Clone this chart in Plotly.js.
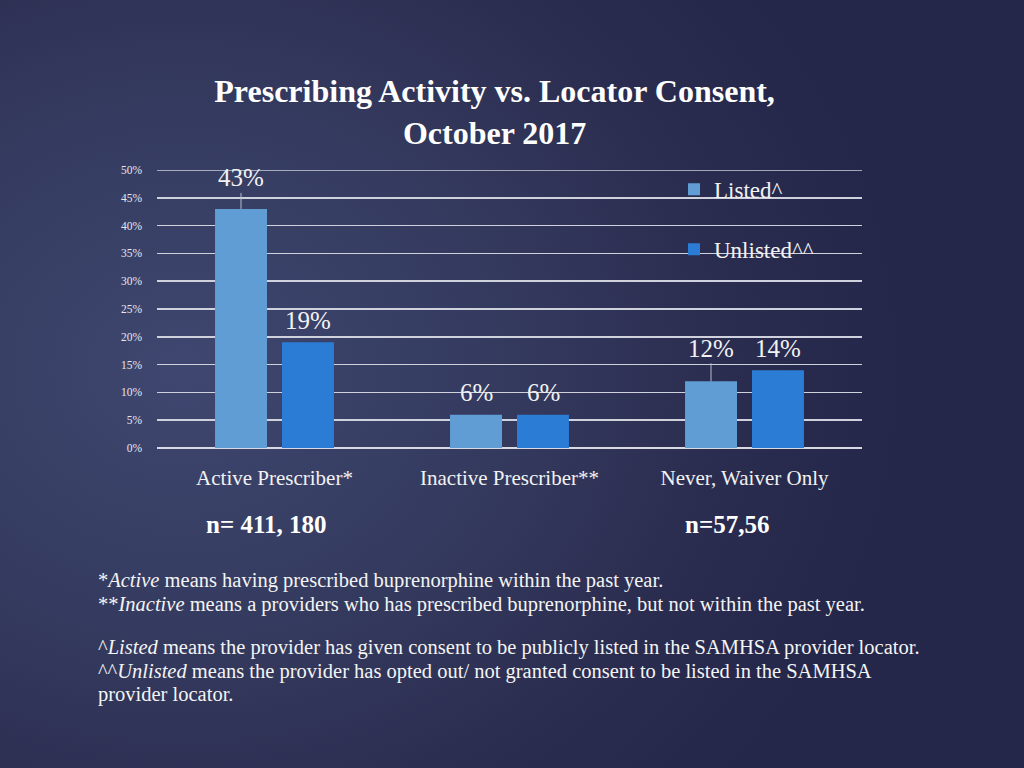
<!DOCTYPE html>
<html>
<head>
<meta charset="utf-8">
<script src="https://cdn.plot.ly/plotly-3.0.1.min.js"></script>
<style>
  html, body { margin:0; padding:0; width:1024px; height:768px; overflow:hidden; }
  body { background: radial-gradient(ellipse 70% 80% at 18% 48%, #3f4770 0%, #343a5e 45%, #2b2d50 75%, #25274a 100%); }
  #chart { width:1024px; height:768px; }
</style>
</head>
<body>
<div id="chart"></div>
<script>
// ---- data ----
const categories = ["Active Prescriber*", "Inactive Prescriber**", "Never, Waiver Only"];
const seriesNames = ["Listed^", "Unlisted^^"];
const listedValues = [0.43, 0.06, 0.12];
const unlistedValues = [0.19, 0.06, 0.14];
const yTickValues = [0, 0.05, 0.10, 0.15, 0.20, 0.25, 0.30, 0.35, 0.40, 0.45, 0.50];
const yTickLabels = ["0%", "5%", "10%", "15%", "20%", "25%", "30%", "35%", "40%", "45%", "50%"];
const nLabels = ["n= 411, 180", "", "n=57,56"];
const titleText = "<b>Prescribing Activity vs. Locator Consent,</b><br><b>October 2017</b>";
const footnoteLines = [
  "*<i>Active</i> means having prescribed buprenorphine within the past year.",
  "**<i>Inactive</i> means a providers who has prescribed buprenorphine, but not within the past year.",
  "^<i>Listed</i> means the provider has given consent to be publicly listed in the SAMHSA provider locator.",
  "^^<i>Unlisted</i> means the provider has opted out/ not granted consent to be listed in the SAMHSA",
  "provider locator."
];

// ---- style ----
const FONT = "'Liberation Serif', 'DejaVu Serif', serif";
const colors = ["#5f9dd4", "#2b7cd4"];
const labelOffsets = [[-31, -22, -33], [-22, -22, -22]]; // px above bar top
const leaderLines = [[true, false, true], [false, false, false]];
const seriesShift = [-33.5, 33.5];
const nShift = [-8, 0, -18];
const plotTop = 170, plotBottom = 448;
const pxToPaperY = py => 1 - (py - plotTop) / (plotBottom - plotTop);
const footnoteY = [580, 604, 647, 671, 694];

const traces = [listedValues, unlistedValues].map((vals, i) => ({
  type: 'bar',
  name: seriesNames[i],
  x: categories,
  y: vals,
  marker: { color: colors[i] },
  legendgroup: 'g' + i,
  hoverinfo: 'skip'
}));

const annotations = [];
[listedValues, unlistedValues].forEach((vals, s) => {
  vals.forEach((v, c) => {
    const txt = Math.round(v * 100) + '%';
    const base = {
      x: categories[c], y: v, xref: 'x', yref: 'y', text: txt,
      xshift: seriesShift[s],
      font: { family: FONT, size: 25, color: '#f2f2f2' }
    };
    if (leaderLines[s][c]) {
      annotations.push(Object.assign(base, {
        showarrow: true, arrowhead: 0, arrowwidth: 1, arrowcolor: '#b8bccc',
        ax: 0, ay: labelOffsets[s][c], standoff: 0
      }));
    } else {
      annotations.push(Object.assign(base, {
        yshift: -labelOffsets[s][c], showarrow: false
      }));
    }
  });
});

nLabels.forEach((t, c) => {
  if (!t) return;
  annotations.push({
    x: categories[c], xref: 'x', y: pxToPaperY(524), yref: 'paper', yanchor: 'middle',
    text: '<b>' + t + '</b>', xshift: nShift[c], showarrow: false,
    font: { family: FONT, size: 25, color: '#ffffff' }
  });
});

footnoteLines.forEach((t, i) => {
  annotations.push({
    xref: 'paper', yref: 'paper', x: (96 - 157) / 705, y: pxToPaperY(footnoteY[i]),
    xanchor: 'left', yanchor: 'middle', align: 'left', showarrow: false, text: t,
    font: { family: FONT, size: 20.5, color: '#f4f4f4' }
  });
});

const layout = {
  width: 1024, height: 768,
  paper_bgcolor: 'rgba(0,0,0,0)',
  plot_bgcolor: 'rgba(0,0,0,0)',
  margin: { l: 157, r: 162, t: plotTop, b: 768 - plotBottom },
  barmode: 'group',
  bargap: 0.43,
  bargroupgap: 0.224,
  title: {
    text: titleText,
    x: 0.483, xref: 'container', xanchor: 'center',
    y: 1 - 102 / 768, yref: 'container', yanchor: 'middle',
    font: { family: FONT, size: 32, color: '#ffffff' }
  },
  xaxis: {
    type: 'category',
    showgrid: false, zeroline: false, showline: false,
    ticks: '', ticklabelstandoff: 15,
    tickfont: { family: FONT, size: 21, color: '#f2f2f2' }
  },
  yaxis: {
    range: [0, 0.5],
    tickvals: yTickValues, ticktext: yTickLabels,
    showgrid: true, gridcolor: '#cfd1dd', gridwidth: 1.5,
    zeroline: true, zerolinecolor: '#d8d9e2', zerolinewidth: 1.5,
    showline: false, ticks: '', ticklabelstandoff: 14,
    tickfont: { family: FONT, size: 11.5, color: '#e6e6ee' }
  },
  shapes: [{
    type: 'line', xref: 'paper', x0: 0, x1: 1, yref: 'y', y0: 0.5, y1: 0.5,
    line: { color: '#cfd1dd', width: 1.5 }, layer: 'below'
  }],
  legend: {
    x: (674 - 157) / 705, xanchor: 'left', y: 1.008, yanchor: 'top',
    bgcolor: 'rgba(0,0,0,0)',
    font: { family: FONT, size: 23, color: '#f2f2f2' },
    traceorder: 'grouped', tracegroupgap: 27,
    itemwidth: 30
  },
  annotations: annotations,
  showlegend: true
};

Plotly.newPlot('chart', traces, layout, { staticPlot: true, displayModeBar: false });
</script>
</body>
</html>
